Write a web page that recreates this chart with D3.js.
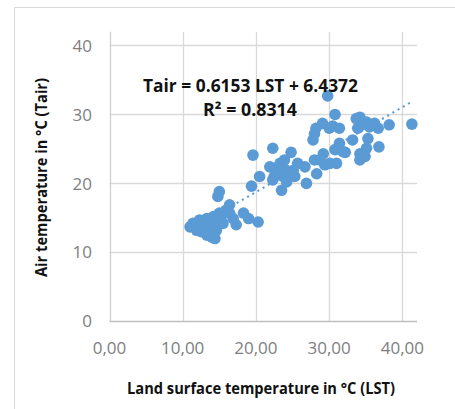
<!DOCTYPE html>
<html>
<head>
<meta charset="utf-8">
<script src="https://cdnjs.cloudflare.com/ajax/libs/d3/7.8.5/d3.min.js"></script>
<style>
  body { margin: 0; background: #fff; }
  svg { display: block; }
</style>
</head>
<body>
<div id="vis"></div>
<script>
// LST (x) and Tair (y)
var lst = [29.8, 41.3, 30.8, 38.2, 36.7, 34.2, 33.7, 35.1, 35.5, 34.4, 31.4, 30.5, 29.1, 28.2, 28.0, 27.8,
  33.2, 35.3, 35.1, 36.8, 31.4, 30.8, 31.9, 34.2, 34.2, 34.9, 22.3, 24.8, 19.6, 29.2, 28.7, 28.0, 30.1, 29.4,
  28.3, 26.9, 26.7, 25.7, 25.1, 25.3, 23.9, 23.3, 22.6, 21.9, 22.8, 23.7, 24.2, 23.5, 22.3, 20.5, 19.4, 15.0,
  14.8, 16.4, 15.9, 15.0, 14.2, 13.3, 12.3, 11.4, 11.0, 11.9, 12.8, 13.7, 14.4, 14.6, 15.5, 16.9, 17.3, 18.3,
  19.0, 20.3, 13.5, 12.6, 14.2, 13.3, 15.0, 16.4, 36.2, 31.0,
  12.0, 13.0, 14.0, 12.5, 13.8, 15.2, 14.0, 23.0, 24.0, 22.5, 24.5, 35.8, 33.9, 32.2, 30.0];
var tair = [32.7, 28.6, 30.0, 28.5, 28.0, 29.6, 29.4, 28.9, 28.2, 28.5, 28.0, 28.3, 28.7, 28.0, 27.2, 26.3,
  26.3, 26.5, 25.1, 25.3, 25.8, 24.9, 24.6, 24.3, 23.4, 23.9, 25.1, 24.5, 24.1, 24.3, 23.4, 23.4, 22.9, 22.7,
  21.4, 20.0, 22.4, 22.9, 21.9, 21.0, 23.4, 22.9, 22.2, 22.4, 21.4, 21.0, 20.2, 19.0, 20.5, 21.0, 19.6, 18.8,
  18.1, 16.9, 16.1, 15.7, 15.2, 14.9, 14.7, 14.2, 13.7, 13.2, 13.2, 12.8, 12.0, 13.2, 14.2, 14.9, 14.0, 15.7,
  14.9, 14.4, 13.7, 14.2, 14.2, 12.5, 14.7, 15.7, 28.7, 22.9,
  14.0, 13.8, 13.5, 13.0, 14.8, 15.0, 12.2, 22.0, 22.0, 21.0, 21.5, 28.5, 28.0, 24.5, 28.0];
var xTicks = [0, 10, 20, 30, 40];
var yTicks = [0, 10, 20, 30, 40];
var slope = 0.6153, intercept = 6.4372;
var eqLines = ["Tair = 0.6153 LST + 6.4372", "R\u00B2 = 0.8314"];
var xTitle = "Land surface temperature in \u00B0C (LST)";
var yTitle = "Air temperature in \u00B0C (Tair)";

var W = 455, H = 409;
var margin = {top: 31.7, right: 38, bottom: 87.7, left: 109.5};

var svg = d3.select("#vis").append("svg").attr("width", W).attr("height", H);

// chart area border
svg.append("rect").attr("x", 14.5).attr("y", 7.5).attr("width", 500).attr("height", 500)
  .attr("fill", "#fff").attr("stroke", "#d9d9d9").attr("stroke-width", 1);

var x = d3.scaleLinear().domain([0, 42]).range([margin.left, W - margin.right]);
var y = d3.scaleLinear().domain([0, 42]).range([H - margin.bottom, margin.top]);

// grid
svg.append("g").selectAll("line").data(yTicks.slice(1)).join("line")
  .attr("x1", x(0)).attr("x2", x(42))
  .attr("y1", d => Math.round(y(d)) + 0.5).attr("y2", d => Math.round(y(d)) + 0.5)
  .attr("stroke", "#d9d9d9").attr("stroke-width", 1.3);
svg.append("g").selectAll("line").data(xTicks.slice(1)).join("line")
  .attr("y1", y(0)).attr("y2", y(42))
  .attr("x1", d => Math.round(x(d)) + 0.5).attr("x2", d => Math.round(x(d)) + 0.5)
  .attr("stroke", "#d9d9d9").attr("stroke-width", 1.3);

// axis lines
svg.append("line").attr("x1", x(0)).attr("x2", x(42)).attr("y1", Math.round(y(0)) + 0.5).attr("y2", Math.round(y(0)) + 0.5)
  .attr("stroke", "#bfbfbf").attr("stroke-width", 1.3);
svg.append("line").attr("x1", Math.round(x(0)) + 0.5).attr("x2", Math.round(x(0)) + 0.5).attr("y1", y(0)).attr("y2", y(42))
  .attr("stroke", "#d0d0d0").attr("stroke-width", 1.3);

// tick labels
svg.append("g").selectAll("text").data(yTicks).join("text")
  .attr("x", 92).attr("y", d => y(d)).attr("dy", "0.36em")
  .attr("text-anchor", "end")
  .style("font-family", "Open Sans").style("font-size", "17px").style("fill", "#808080")
  .text(d => d);
svg.append("g").selectAll("text").data(xTicks).join("text")
  .attr("x", d => x(d)).attr("y", 348).attr("dy", "0.36em")
  .attr("text-anchor", "middle")
  .style("font-family", "Open Sans").style("font-size", "17px").style("fill", "#808080")
  .text(d => d3.format(".2f")(d).replace(".", ","));

// trendline (dotted)
var xr = d3.extent(lst);
svg.append("line")
  .attr("x1", x(xr[0])).attr("y1", y(slope * xr[0] + intercept))
  .attr("x2", x(xr[1])).attr("y2", y(slope * xr[1] + intercept))
  .attr("stroke", "#5b9bd5").attr("stroke-width", 2.2).attr("stroke-dasharray", "2 4");

// points
svg.append("g").selectAll("circle").data(lst.map((d, i) => [d, tair[i]])).join("circle")
  .attr("cx", d => x(d[0])).attr("cy", d => y(d[1])).attr("r", 5.8)
  .attr("fill", "#5b9bd5");

// equation
svg.append("text").attr("x", 250.5).attr("y", 86).attr("dy", "0.36em").attr("text-anchor", "middle")
  .attr("textLength", 215).attr("lengthAdjust", "spacingAndGlyphs")
  .style("font-family", "Open Sans").style("font-weight", "bold").style("font-size", "17px").style("fill", "#111")
  .text(eqLines[0]);
svg.append("text").attr("x", 250).attr("y", 110).attr("dy", "0.36em").attr("text-anchor", "middle")
  .attr("textLength", 94).attr("lengthAdjust", "spacingAndGlyphs")
  .style("font-family", "Open Sans").style("font-weight", "bold").style("font-size", "17px").style("fill", "#111")
  .text(eqLines[1]);

// axis titles
svg.append("text").attr("x", 261).attr("y", 388).attr("dy", "0.36em").attr("text-anchor", "middle")
  .attr("textLength", 268).attr("lengthAdjust", "spacingAndGlyphs")
  .style("font-family", "Open Sans").style("font-weight", "bold").style("font-size", "16px").style("fill", "#111")
  .text(xTitle);
svg.append("text").attr("transform", "translate(41.5,177.5) rotate(-90)").attr("dy", "0.36em").attr("text-anchor", "middle")
  .attr("textLength", 199).attr("lengthAdjust", "spacingAndGlyphs")
  .style("font-family", "Open Sans").style("font-weight", "bold").style("font-size", "16px").style("fill", "#111")
  .text(yTitle);
</script>
</body>
</html>
